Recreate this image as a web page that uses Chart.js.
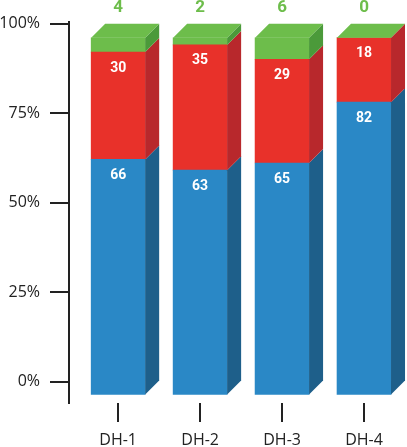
<!DOCTYPE html>
<html>
<head>
<meta charset="utf-8">
<script src="https://cdn.jsdelivr.net/npm/chart.js@4.4.0/dist/chart.umd.min.js"></script>
<style>
  html, body { margin: 0; padding: 0; background: #fff; }
  #wrap { width: 407px; height: 447px; }
</style>
</head>
<body>
<div id="wrap"><canvas id="myChart"></canvas></div>
<script>
var holes = ['DH-1', 'DH-2', 'DH-3', 'DH-4'];
var blueValues = [66, 63, 65, 82];
var redValues = [30, 35, 29, 18];
var greenValues = [4, 2, 6, 0];
var yTicks = [0, 25, 50, 75, 100];

var DEPTH = 14;
var frontColors = ['#2a88c6', '#e8312a', '#6dbd4b'];
var sideColors = ['#1e5f8a', '#b8282c', '#4b9a3a'];

function points(values) {
  return values.map(function (v, i) { return { x: i, y: v }; });
}

// draws the front faces shifted down, then the side and top faces
var depthPlugin = {
  id: 'depth',
  beforeDatasetsDraw: function (chart) {
    chart.ctx.save();
    chart.ctx.translate(0, DEPTH);
  },
  afterDatasetsDraw: function (chart) {
    var ctx = chart.ctx;
    var n = chart.data.datasets.length;
    for (var d = 0; d < n; d++) {
      chart.getDatasetMeta(d).data.forEach(function (bar) {
        var p = bar.getProps(['x', 'y', 'base', 'width'], true);
        var right = p.x + p.width / 2;
        var top = Math.min(p.y, p.base), bottom = Math.max(p.y, p.base);
        ctx.fillStyle = sideColors[d];
        ctx.beginPath();
        ctx.moveTo(right, bottom);
        ctx.lineTo(right, top);
        ctx.lineTo(right + DEPTH, top - DEPTH);
        ctx.lineTo(right + DEPTH, bottom - DEPTH);
        ctx.closePath();
        ctx.fill();
      });
    }
    // top face
    chart.getDatasetMeta(n - 1).data.forEach(function (bar) {
      var p = bar.getProps(['x', 'y', 'width'], true);
      var left = p.x - p.width / 2, right = p.x + p.width / 2;
      ctx.fillStyle = frontColors[n - 1];
      ctx.beginPath();
      ctx.moveTo(left, p.y);
      ctx.lineTo(left + DEPTH, p.y - DEPTH);
      ctx.lineTo(right + DEPTH, p.y - DEPTH);
      ctx.lineTo(right, p.y);
      ctx.closePath();
      ctx.fill();
    });
    ctx.restore();

    // value labels
    ctx.save();
    ctx.textAlign = 'center';
    ctx.textBaseline = 'middle';
    for (var k = 0; k < n; k++) {
      var ds = chart.data.datasets[k];
      chart.getDatasetMeta(k).data.forEach(function (bar, i) {
        var p = bar.getProps(['x', 'y'], true);
        if (k === n - 1) {
          ctx.fillStyle = frontColors[k];
          ctx.font = 'bold 17px Roboto';
          ctx.fillText(ds.data[i].y, p.x, p.y - 16);
        } else {
          ctx.fillStyle = '#ffffff';
          ctx.font = 'bold 14px Roboto';
          ctx.fillText(ds.data[i].y, p.x, p.y + DEPTH + 16);
        }
      });
    }
    ctx.restore();
  }
};

var axisFont = { family: 'Open Sans', size: 16 };

var ctx = document.getElementById('myChart').getContext('2d');
var myChart = new Chart(ctx, {
  type: 'bar',
  data: {
    datasets: [
      { data: points(blueValues), backgroundColor: frontColors[0] },
      { data: points(redValues), backgroundColor: frontColors[1] },
      { data: points(greenValues), backgroundColor: frontColors[2] }
    ]
  },
  options: {
    responsive: true,
    maintainAspectRatio: false,
    animation: false,
    barThickness: 54,
    borderWidth: 0,
    layout: { padding: { top: 22, right: 2, left: 0, bottom: 0 } },
    plugins: { legend: { display: false }, tooltip: { enabled: false } },
    scales: {
      x: {
        type: 'linear',
        stacked: true,
        offset: false,
        min: -0.6,
        max: 3.5,
        afterFit: function (s) { s.height = 44; },
        border: { display: false },
        grid: { offset: false, drawOnChartArea: false, drawTicks: true, tickLength: 19, color: '#222', lineWidth: 2 },
        ticks: {
          stepSize: 1,
          includeBounds: false,
          autoSkip: false,
          maxRotation: 0,
          padding: 9,
          color: '#222',
          font: axisFont,
          callback: function (v) { return holes[v] || ''; }
        }
      },
      y: {
        stacked: true,
        min: -6,
        max: 100.5,
        afterFit: function (s) { s.width = 69; },
        border: { display: true, color: '#222', width: 2 },
        grid: { drawOnChartArea: false, drawTicks: true, tickLength: 19, color: '#222', lineWidth: 2 },
        ticks: {
          stepSize: 25,
          includeBounds: false,
          padding: 10,
          color: '#222',
          font: axisFont,
          callback: function (v) { return yTicks.indexOf(v) >= 0 ? v + '%' : ''; }
        }
      }
    }
  },
  plugins: [depthPlugin]
});
</script>
</body>
</html>
